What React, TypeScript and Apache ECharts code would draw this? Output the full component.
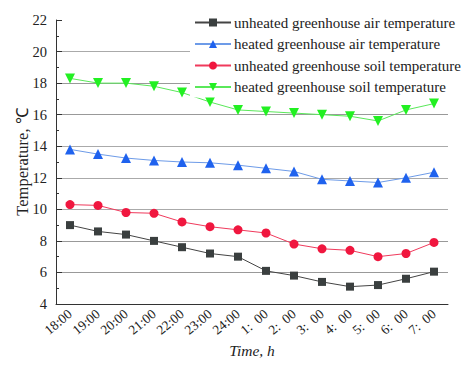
import React, { useEffect, useRef } from "react";
import * as echarts from "echarts";

const categories = ["18:00", "19:00", "20:00", "21:00", "22:00", "23:00", "24:00", "1:  00", "2:  00", "3:  00", "4:  00", "5:  00", "6:  00", "7:  00"];
const unheatedAir = [9.0, 8.6, 8.4, 8.0, 7.6, 7.2, 7.0, 6.1, 5.8, 5.4, 5.1, 5.2, 5.6, 6.05];
const heatedAir = [13.8, 13.5, 13.25, 13.1, 13.0, 12.95, 12.8, 12.6, 12.4, 11.9, 11.8, 11.7, 12.0, 12.35];
const unheatedSoil = [10.3, 10.25, 9.8, 9.75, 9.2, 8.9, 8.7, 8.5, 7.8, 7.5, 7.4, 7.0, 7.2, 7.9];
const heatedSoil = [18.3, 18.0, 18.0, 17.8, 17.4, 16.8, 16.3, 16.2, 16.1, 16.0, 15.9, 15.6, 16.3, 16.7];
const seriesNames = [
  "unheated greenhouse air temperature",
  "heated greenhouse air temperature",
  "unheated greenhouse soil temperature",
  "heated greenhouse soil temperature",
];

const FONT = "Liberation Serif";

export default function App() {
  const ref = useRef<HTMLDivElement>(null);
  useEffect(() => {
    if (!ref.current) return;
    const chart = echarts.init(ref.current, null, { renderer: "svg" });
    const mk = (name: string, data: number[], line: string, marker: string, symbol: string, size: number, rotate = 0) => ({
      name,
      type: "line",
      data,
      symbol,
      symbolSize: size,
      symbolRotate: rotate,
      lineStyle: { color: line, width: 1 },
      itemStyle: { color: marker },
      z: 3,
    });
    chart.setOption({
      animation: false,
      backgroundColor: "#fff",
      textStyle: { fontFamily: FONT },
      grid: { left: 56, right: 26, top: 20, bottom: 64 },
      legend: {
        orient: "vertical",
        left: 190,
        top: 10,
        padding: [5, 20, 3, 4],
        backgroundColor: "#fff",
        itemWidth: 36,
        itemHeight: 10,
        itemGap: 6.5,
        z: 10,
        textStyle: { fontFamily: FONT, fontSize: 15, lineHeight: 14, color: "#222", padding: [0, 0, 0, -2] },
        data: seriesNames,
      },
      xAxis: {
        type: "category",
        data: categories,
        boundaryGap: true,
        name: "Time, h",
        nameLocation: "middle",
        nameGap: 38,
        nameMoveOverlap: false,
        nameTextStyle: { fontFamily: FONT, fontSize: 15.5, fontStyle: "italic", color: "#222" },
        axisLine: { lineStyle: { color: "#333", width: 1 } },
        axisTick: { inside: true, length: 6, alignWithLabel: true, interval: 0, lineStyle: { color: "#333" } },
        axisLabel: { rotate: 40, margin: 8, interval: 0, fontFamily: FONT, fontSize: 13.5, color: "#222" },
        splitLine: { show: false },
      },
      yAxis: {
        type: "value",
        min: 4,
        max: 22,
        interval: 2,
        name: "Temperature, ℃",
        nameLocation: "middle",
        nameGap: 25,
        nameMoveOverlap: false,
        nameTextStyle: { fontFamily: FONT, fontSize: 16.5, color: "#222" },
        axisLine: { show: true, lineStyle: { color: "#333", width: 1 } },
        axisTick: { show: true, inside: true, length: 6, lineStyle: { color: "#333" } },
        minorTick: { show: true, splitNumber: 2, length: 3, lineStyle: { color: "#333" } },
        axisLabel: { margin: 9, fontFamily: FONT, fontSize: 14.5, color: "#222" },
        splitLine: {
          show: true,
          lineStyle: {
            color: ["transparent", "#999", "#999", "#aaa", "#aaa", "#aaa", "#999", "#999", "#aaa", "transparent"],
            width: 1,
          },
        },
      },
      series: [
        mk(seriesNames[0], unheatedAir, "#444", "#3a3f3f", "rect", 8),
        mk(seriesNames[1], heatedAir, "#6d9be8", "#1f62ee", "triangle", 10),
        mk(seriesNames[2], unheatedSoil, "#f03a5c", "#f0173f", "circle", 9),
        mk(seriesNames[3], heatedSoil, "#5ae85a", "#22f022", "triangle", 10, 180),
      ],
    });
    return () => chart.dispose();
  }, []);
  return <div ref={ref} style={{ width: 474, height: 368, position: "absolute", left: 0, top: 0 }} />;
}
